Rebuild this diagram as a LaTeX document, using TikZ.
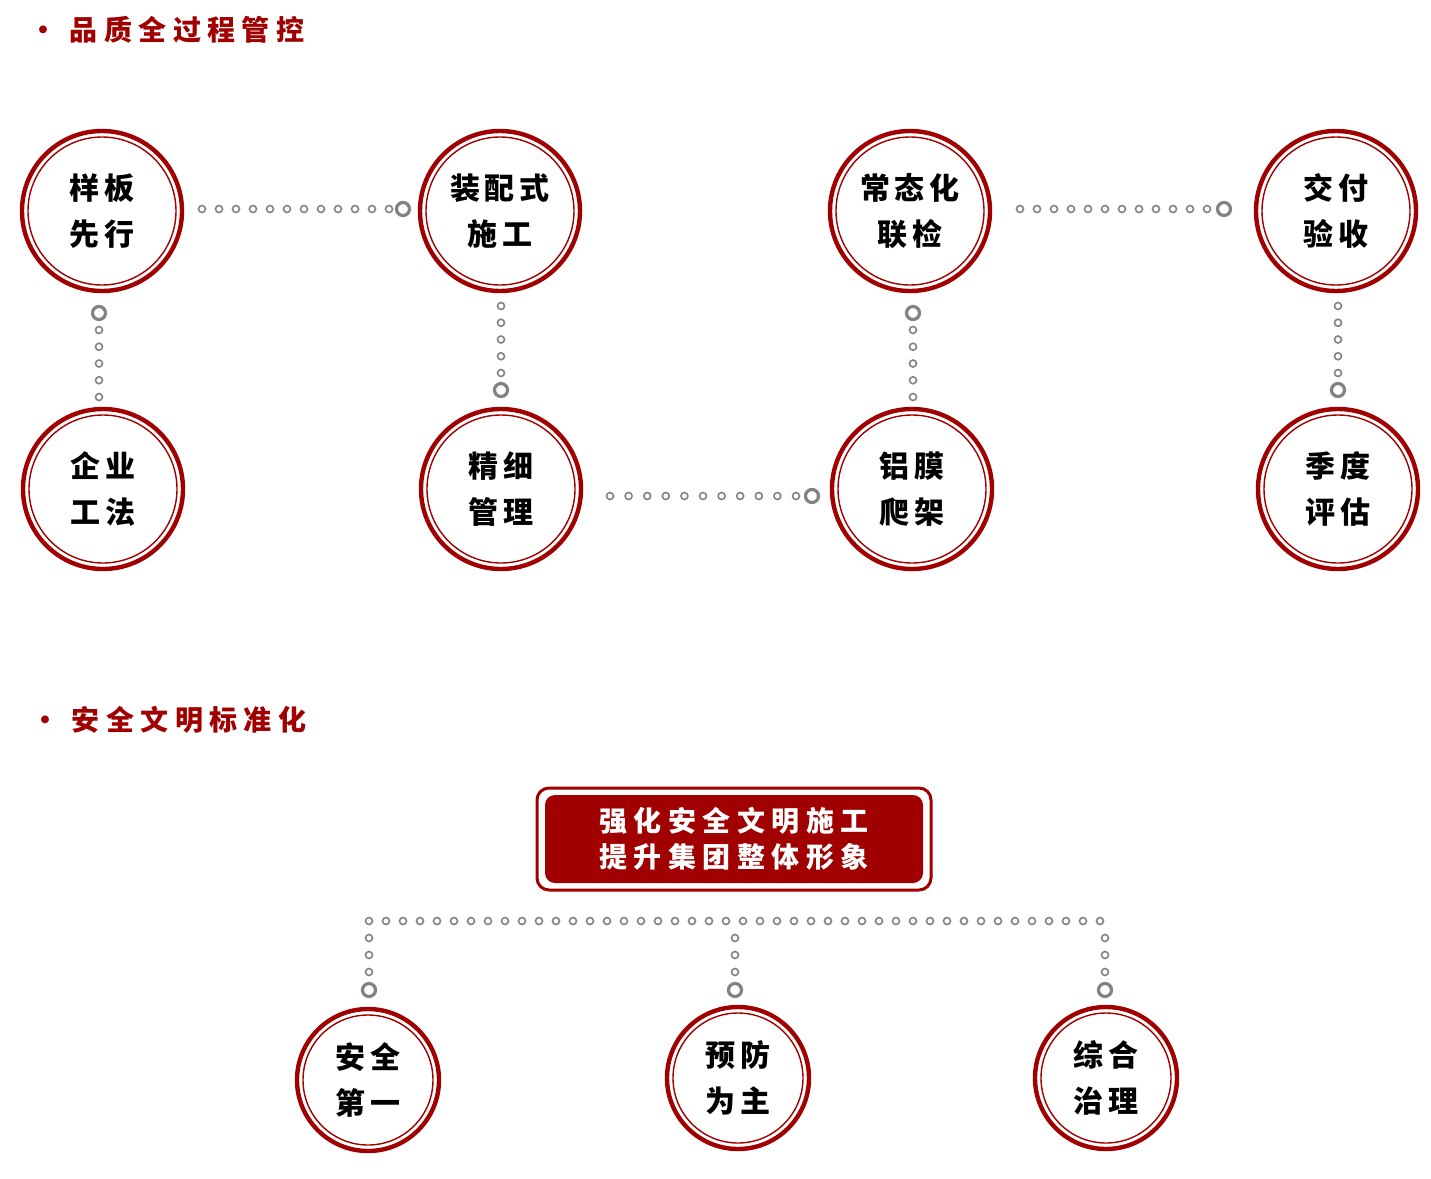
\documentclass[tikz,border=0pt]{standalone}
\usepackage{fontspec}
\newfontfamily\cjk{Noto Sans CJK SC}
\definecolor{darkred}{RGB}{160,0,0}
\definecolor{dotgray}{RGB}{130,130,130}
\usetikzlibrary{positioning}
\tikzset{main node/.style={circle,draw=darkred,line width=2.2pt,minimum size=80pt,inner sep=0pt,
    font=\cjk\bfseries\fontsize{15}{23}\selectfont,align=center},
  small node/.style={main node,minimum size=71pt},
  ring/.style={circle,draw=dotgray,line width=0.8pt,minimum size=3.5pt,inner sep=0pt},
  big ring/.style={circle,draw=dotgray,line width=1.6pt,minimum size=6.5pt,inner sep=0pt},
  title/.style={anchor=west,text=darkred,font=\cjk\bfseries\fontsize{14}{14}\selectfont},
}
\begin{document}
\begin{tikzpicture}[x=0.5pt,y=-0.5pt]
	\useasboundingbox (0,0) rectangle (1431,1179);
	\node[title] (t1) at (22,30) {·\ \ 品\ 质\ 全\ 过\ 程\ 管\ 控};
	\node[title] (t2) at (24,720) {·\ \ 安\ 全\ 文\ 明\ 标\ 准\ 化};
	
	\node[main node] (1) at (102,211) {样\,板\\先\,行};
	\node[main node] (2) at (500,211) {装\,配\,式\\施\,工};
	\node[main node] (3) at (910,211) {常\,态\,化\\联\,检};
	\node[main node] (4) at (1336,211) {交\,付\\验\,收};
	\node[main node] (5) at (103,489) {企\,业\\工\,法};
	\node[main node] (6) at (501,489) {精\,细\\管\,理};
	\node[main node] (7) at (912,489) {铝\,膜\\爬\,架};
	\node[main node] (8) at (1338,489) {季\,度\\评\,估};
	\node[small node] (a) at (368,1080) {安\,全\\第\,一};
	\node[small node] (b) at (738,1078) {预\,防\\为\,主};
	\node[small node] (c) at (1106,1078) {综\,合\\治\,理};
	\foreach \n in {1,...,8} \draw[darkred,line width=0.7pt] (\n) circle (37pt);
	\foreach \n in {a,b,c} \draw[darkred,line width=0.7pt] (\n) circle (32.5pt);
	
	% dotted links
	\foreach \x in {202,219,...,391} \node[ring] at (\x,209) {};
	\node[big ring] (h1) at (403,209) {};
	\foreach \x in {1020,1037,...,1208} \node[ring] at (\x,209) {};
	\node[big ring] (h2) at (1224,209) {};
	\foreach \x in {610,628.6,...,797} \node[ring] at (\x,496) {};
	\node[big ring] (h3) at (812,496) {};
	\foreach \y in {330,346.75,...,398} {\node[ring] at (99,\y) {}; \node[ring] at (913,\y) {};}
	\node[big ring] (v1) at (99,313) {};
	\node[big ring] (v3) at (913,313) {};
	\foreach \y in {306,322.75,...,374} {\node[ring] at (501,\y) {}; \node[ring] at (1338,\y) {};}
	\node[big ring] (v2) at (501,390) {};
	\node[big ring] (v4) at (1338,390) {};
	
	\node[draw=darkred,line width=1.5pt,rounded corners=6pt,minimum width=197pt,minimum height=51pt] (box) at (734,839) {};
	\node[fill=darkred,rounded corners=5pt,minimum width=189pt,minimum height=44pt,text=white,
	  font=\cjk\bfseries\fontsize{14}{18}\selectfont,align=center] (top) at (734,839) {强\ 化\ 安\ 全\ 文\ 明\ 施\ 工\\提\ 升\ 集\ 团\ 整\ 体\ 形\ 象};
	
	\foreach \x in {369,386,...,1105} \node[ring] at (\x,921) {};
	\foreach \x in {369,735,1105} {
		\foreach \y in {938,955,972} \node[ring] at (\x,\y) {};
		\node[big ring] at (\x,990) {};}
	\end{tikzpicture}
\end{document}
